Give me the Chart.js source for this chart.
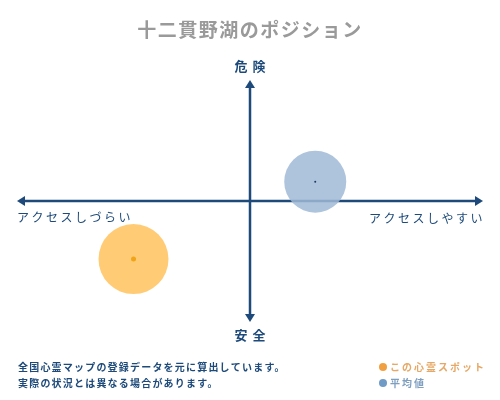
<!DOCTYPE html>
<html>
<head>
<meta charset="utf-8">
<script src="https://cdn.jsdelivr.net/npm/chart.js@4"></script>
<style>
  html, body { margin: 0; padding: 0; background: #fff; }
  #wrap { width: 500px; height: 400px; position: relative; }
</style>
</head>
<body>
<div id="wrap"><canvas id="positionChart"></canvas></div>
<script>
// values (x: access, y: danger)
const spotX = [-5.0];
const spotY = [-4.8];
const spotR = [35];
const avgX = [2.8];
const avgY = [1.6];
const avgR = [31];
const axisLabels = ['危険', '安全', 'アクセスしづらい', 'アクセスしやすい'];
const legendLabels = ['この心霊スポット', '平均値'];
const noteLines = ['全国心霊マップの登録データを元に算出しています。', '実際の状況とは異なる場合があります。'];

const NAVY = '#1d4a7a';
const FONT = '"Noto Sans CJK JP", "Noto Sans", sans-serif';

function points(xs, ys, rs) {
  return xs.map((x, i) => ({ x: x, y: ys[i], r: rs[i] }));
}

// draws the arrow axes and all the text around them
const decorPlugin = {
  id: 'decor',
  beforeDatasetsDraw(chart) {
    const { ctx, chartArea: a, scales } = chart;
    const cx = scales.x.getPixelForValue(0);
    const cy = scales.y.getPixelForValue(0);
    ctx.save();
    ctx.strokeStyle = NAVY;
    ctx.fillStyle = NAVY;
    ctx.lineWidth = 2.5;
    ctx.beginPath();
    ctx.moveTo(a.left + 4, cy); ctx.lineTo(a.right - 4, cy);
    ctx.moveTo(cx, a.top + 4); ctx.lineTo(cx, a.bottom - 4);
    ctx.stroke();
    const head = (x, y, dx, dy) => {
      ctx.beginPath();
      ctx.moveTo(x, y);
      ctx.lineTo(x - dx * 8 - dy * 5, y - dy * 8 - dx * 5);
      ctx.lineTo(x - dx * 8 + dy * 5, y - dy * 8 + dx * 5);
      ctx.closePath();
      ctx.fill();
    };
    head(a.right, cy, 1, 0);
    head(a.left, cy, -1, 0);
    head(cx, a.top, 0, -1);
    head(cx, a.bottom, 0, 1);
    ctx.restore();
  },
  afterDraw(chart) {
    const { ctx, chartArea: a, scales } = chart;
    const cx = scales.x.getPixelForValue(0);
    const cy = scales.y.getPixelForValue(0);
    ctx.save();
    ctx.textBaseline = 'middle';

    // title
    ctx.fillStyle = '#9a9a9a';
    ctx.font = 'bold 19px ' + FONT;
    ctx.letterSpacing = '1.5px';
    ctx.textAlign = 'center';
    ctx.fillText('十二貫野湖のポジション', 250, 30);

    // axis labels
    ctx.fillStyle = NAVY;
    ctx.font = 'bold 13px ' + FONT;
    ctx.letterSpacing = '5px';
    ctx.fillText(axisLabels[0], cx + 2.5, a.top - 14);
    ctx.fillText(axisLabels[1], cx + 2.5, a.bottom + 13);
    ctx.font = '12px ' + FONT;
    ctx.letterSpacing = '2.5px';
    ctx.textAlign = 'left';
    ctx.fillText(axisLabels[2], a.left, cy + 16);
    ctx.textAlign = 'right';
    ctx.fillText(axisLabels[3], a.right + 2, cy + 17);

    // notes
    ctx.textAlign = 'left';
    ctx.font = 'bold 10px ' + FONT;
    ctx.letterSpacing = '1.2px';
    ctx.fillText(noteLines[0], 18, 367);
    ctx.fillText(noteLines[1], 18, 383);

    // legend
    const legend = [
      { dot: '#f0a040', text: '#e6a866', label: legendLabels[0], y: 367 },
      { dot: '#6f9bc6', text: '#7f9fc0', label: legendLabels[1], y: 383 }
    ];
    legend.forEach(l => {
      ctx.fillStyle = l.dot;
      ctx.beginPath();
      ctx.arc(383, l.y, 4, 0, Math.PI * 2);
      ctx.fill();
      ctx.fillStyle = l.text;
      ctx.font = 'bold 10px ' + FONT;
      ctx.letterSpacing = '2px';
      ctx.fillText(l.label, 390, l.y);
    });
    ctx.restore();
  }
};

new Chart(document.getElementById('positionChart'), {
  type: 'bubble',
  data: {
    datasets: [
      {
        label: 'spot-center',
        data: points(spotX, spotY, [2.5]),
        backgroundColor: '#f0a418',
        borderWidth: 0
      },
      {
        label: 'avg-center',
        data: points(avgX, avgY, [1]),
        backgroundColor: '#1d3a5f',
        borderWidth: 0
      },
      {
        label: legendLabels[0],
        data: points(spotX, spotY, spotR),
        backgroundColor: 'rgba(255, 200, 110, 0.95)',
        borderWidth: 0
      },
      {
        label: legendLabels[1],
        data: points(avgX, avgY, avgR),
        backgroundColor: 'rgba(160, 185, 214, 0.85)',
        borderWidth: 0
      }
    ]
  },
  options: {
    responsive: true,
    maintainAspectRatio: false,
    animation: false,
    layout: { autoPadding: false, padding: { left: 17, right: 17, top: 80, bottom: 78 } },
    plugins: {
      legend: { display: false },
      tooltip: { enabled: false },
      title: { display: false }
    },
    scales: {
      x: { min: -10, max: 10, display: false },
      y: { min: -10, max: 10, display: false }
    }
  },
  plugins: [decorPlugin]
});
</script>
</body>
</html>
